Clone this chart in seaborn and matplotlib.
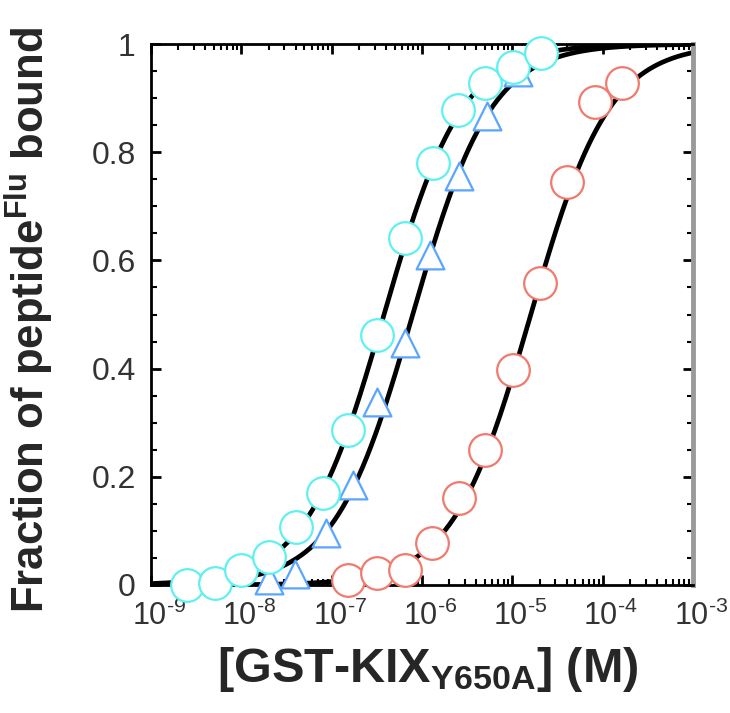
import numpy as np
import pandas as pd
import matplotlib
matplotlib.use("Agg")
import matplotlib.pyplot as plt
import matplotlib.ticker as mticker
import matplotlib.transforms as mtrans
import seaborn as sns

# ---- data ----
cyan_conc = [2.5e-9, 5.1e-9, 1.0e-8, 2.0e-8, 4.0e-8, 8.1e-8, 1.5e-7, 3.2e-7, 6.5e-7, 1.32e-6, 2.5e-6, 5.0e-6, 1.02e-5, 2.1e-5]
cyan_frac = [0.0, 0.004, 0.028, 0.052, 0.107, 0.170, 0.287, 0.462, 0.641, 0.780, 0.878, 0.928, 0.957, 0.983]
tri_conc = [2.0e-8, 3.9e-8, 8.7e-8, 1.74e-7, 3.2e-7, 6.5e-7, 1.23e-6, 2.6e-6, 5.2e-6, 1.17e-5]
tri_frac = [0.009, 0.020, 0.096, 0.185, 0.338, 0.447, 0.610, 0.756, 0.867, 0.948]
red_conc = [1.5e-7, 3.2e-7, 6.5e-7, 1.29e-6, 2.6e-6, 5.0e-6, 1.02e-5, 2.04e-5, 4.07e-5, 8.3e-5, 1.62e-4]
red_frac = [0.009, 0.022, 0.028, 0.078, 0.161, 0.250, 0.397, 0.558, 0.745, 0.893, 0.928]

# fitted dissociation constants (M) for the black fit curves
kd_values = {"cyan": 3.8e-7, "tri": 7.9e-7, "red": 1.6e-5}

xtick_vals = [1e-9, 1e-8, 1e-7, 1e-6, 1e-5, 1e-4, 1e-3]
xtick_labels = [r"10$^{\text{-}9}$", r"10$^{\text{-}8}$", r"10$^{\text{-}7}$", r"10$^{\text{-}6}$",
                r"10$^{\text{-}5}$", r"10$^{\text{-}4}$", r"10$^{\text{-}3}$"]
ytick_vals = [0, 0.2, 0.4, 0.6, 0.8, 1.0]
ytick_labels = ["0", "0.2", "0.4", "0.6", "0.8", "1"]

sns.set_style("ticks")
plt.rcParams["font.family"] = ["Liberation Sans", "DejaVu Sans"]
plt.rcParams["mathtext.fontset"] = "custom"
plt.rcParams["mathtext.rm"] = "Liberation Sans"
plt.rcParams["mathtext.it"] = "Liberation Sans"
plt.rcParams["mathtext.bf"] = "Liberation Sans:bold"

fig = plt.figure(figsize=(7.3, 7.13), dpi=100)
ax = fig.add_axes([151/730, 1-585/713, 542/730, 541/713])
ax.set_xscale("log")

grid = np.logspace(-9, -3, 400)
for key in ["cyan", "tri", "red"]:
    kd = kd_values[key]
    df = pd.DataFrame({"conc": grid, "frac": grid / (kd + grid)})
    sns.lineplot(data=df, x="conc", y="frac", color="black", lw=3.4, ax=ax, zorder=2)

sns.scatterplot(x=tri_conc, y=tri_frac, marker="^", s=20**2, color="white",
                edgecolor="#5aa5ff", linewidth=1.6, ax=ax, zorder=3, clip_on=False)
sns.scatterplot(x=cyan_conc, y=cyan_frac, marker="o", s=23.5**2, color="white",
                edgecolor="#5ff0f0", linewidth=1.6, ax=ax, zorder=4, clip_on=False)
sns.scatterplot(x=red_conc, y=red_frac, marker="o", s=23.5**2, color="white",
                edgecolor="#f07a6e", linewidth=1.6, ax=ax, zorder=4, clip_on=False)

ax.set_xlim(1e-9, 1e-3)
ax.set_ylim(0, 1)

ax.xaxis.set_major_locator(mticker.FixedLocator(xtick_vals))
ax.xaxis.set_major_formatter(mticker.FixedFormatter(xtick_labels))
ax.xaxis.set_minor_locator(mticker.LogLocator(base=10, subs=np.arange(2, 10), numticks=20))
ax.xaxis.set_minor_formatter(mticker.NullFormatter())
ax.yaxis.set_major_locator(mticker.FixedLocator(ytick_vals))
ax.yaxis.set_major_formatter(mticker.FixedFormatter(ytick_labels))
ax.yaxis.set_minor_locator(mticker.MultipleLocator(0.05))

ax.tick_params(which="both", direction="in", top=True, right=True, color="black")
ax.tick_params(which="major", length=7, width=2)
ax.tick_params(which="minor", length=4, width=1.5)
ax.tick_params(axis="y", which="major", labelsize=23, pad=11, labelcolor="#333333")
ax.tick_params(axis="x", which="major", labelsize=22, pad=11, labelcolor="#333333")

offset = mtrans.ScaledTranslation(0.08, 0, fig.dpi_scale_trans)
for lab in ax.get_xticklabels():
    lab.set_transform(lab.get_transform() + offset)

for s in ["left", "top", "bottom"]:
    ax.spines[s].set_linewidth(2)
    ax.spines[s].set_color("black")
ax.spines["right"].set_linewidth(3.5)
ax.spines["right"].set_color("#9a9a9a")

ax.set_ylabel(r"Fraction of peptide$^{\mathbf{Flu}}$ bound", fontsize=31.5, fontweight="bold")
ax.set_xlabel(r"[GST-KIX$_{\mathbf{Y650A}}$] (M)", fontsize=35, fontweight="bold")
ax.yaxis.set_label_coords(-0.175, 0.49)
ax.xaxis.set_label_coords(0.51, -0.11)

fig.savefig("out.png", dpi=100)
